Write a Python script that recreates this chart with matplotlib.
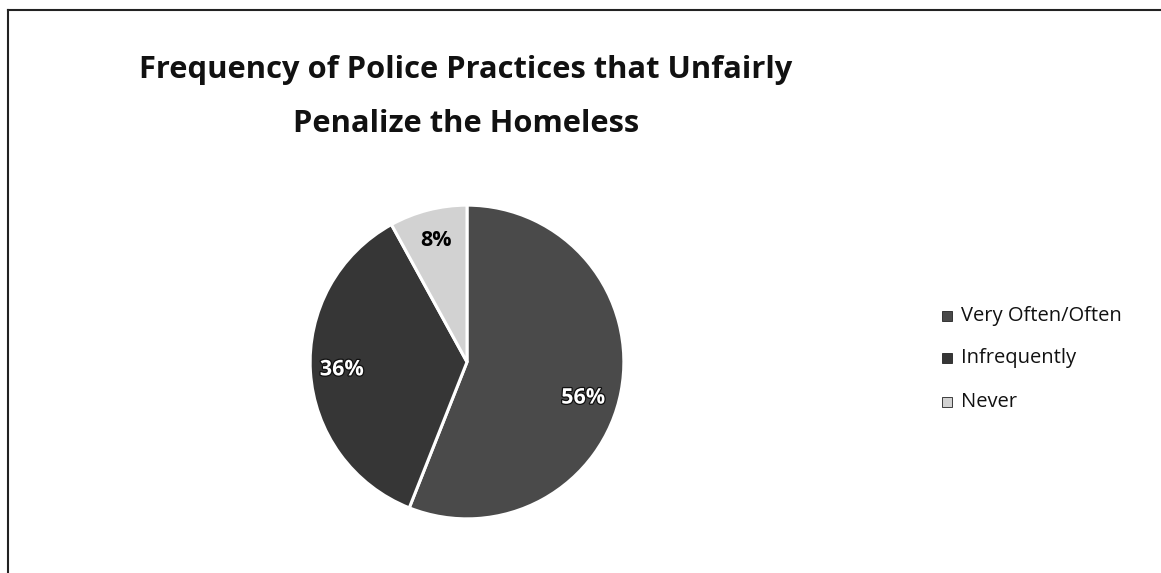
import matplotlib.pyplot as plt
import matplotlib.patheffects as pe

categories = ['Very Often/Often', 'Infrequently', 'Never']
shares = [56, 36, 8]
colors = ['#4a4a4a', '#363636', '#d2d2d2']
label_colors = ['white', 'white', 'black']

W, H = 1161, 573
fig = plt.figure(figsize=(W / 100, H / 100), dpi=100)
plt.rcParams['font.family'] = ['Open Sans', 'DejaVu Sans']

# frame lines (top and left only, as in the scan)
fig.add_artist(plt.Line2D([8 / W, 1], [1 - 10 / H, 1 - 10 / H], color='#222', lw=1.5))
fig.add_artist(plt.Line2D([8 / W, 8 / W], [0, 1 - 10 / H], color='#222', lw=1.5))

fig.text(466 / W, 1 - 70 / H, 'Frequency of Police Practices that Unfairly',
         ha='center', va='center', fontsize=22.2, fontweight='bold', color='#111')
fig.text(466 / W, 1 - 124 / H, 'Penalize the Homeless',
         ha='center', va='center', fontsize=22.2, fontweight='bold', color='#111')

cx, cy, r = 467, 362, 160
ax = fig.add_axes([(cx - r) / W, (H - cy - r) / H, 2 * r / W, 2 * r / H])
wedges, texts, autotexts = ax.pie(
    shares, colors=colors, startangle=90, counterclock=False,
    autopct='%d%%', pctdistance=0.8,
    wedgeprops=dict(edgecolor='white', linewidth=2.2))
ax.set_xlim(-1.02, 1.02)
ax.set_ylim(-1.02, 1.02)
ax.set_aspect('equal')
ax.axis('off')

for t, c in zip(autotexts, label_colors):
    t.set_color(c)
    t.set_fontsize(15.5)
    t.set_fontweight('bold')
    if c == 'white':
        t.set_path_effects([pe.withStroke(linewidth=1.8, foreground='#111')])
autotexts[0].set_position((0.74, -0.23))

# legend
leg_y = [316, 358, 402]
for name, col, y in zip(categories, colors, leg_y):
    fig.patches.append(plt.Rectangle((942 / W, 1 - (y + 5) / H), 10 / W, 10 / H,
                                     transform=fig.transFigure, facecolor=col,
                                     edgecolor='#222', lw=0.6))
    fig.text(961 / W, 1 - y / H, name, ha='left', va='center', fontsize=14.5, color='#111')

fig.savefig('out.png', dpi=100, facecolor='white')
